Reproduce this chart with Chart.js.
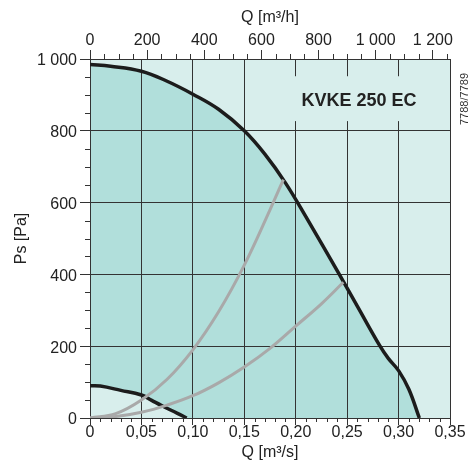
<!DOCTYPE html>
<html>
<head>
<meta charset="utf-8">
<script src="https://cdn.jsdelivr.net/npm/chart.js@4.4.0/dist/chart.umd.min.js"></script>
<style>
  html, body { margin: 0; padding: 0; background: #fff; }
</style>
</head>
<body>
<canvas id="fanChart" width="472" height="466"></canvas>
<script>
// Fan curve KVKE 250 EC
// max speed curve
const flowMax  = [0, 0.02, 0.05, 0.075, 0.10, 0.125, 0.15, 0.17, 0.19, 0.21, 0.2424, 0.26, 0.282, 0.29, 0.30, 0.31, 0.3202];
const pressMax = [985, 980, 966, 938, 902, 860, 800, 735, 655, 560, 400, 311, 200, 166, 132, 80, 0];
// min speed curve
const flowMin  = [0, 0.01, 0.03, 0.05, 0.06, 0.07, 0.085, 0.094];
const pressMin = [90, 89, 77, 64, 49, 34, 13, 0];
// system curves (grey)
const flowSysA  = [0, 0.025, 0.05, 0.075, 0.10, 0.125, 0.15, 0.175, 0.188];
const pressSysA = [0, 12, 50, 108, 190, 296, 426, 580, 664];
const flowSysB  = [0, 0.025, 0.05, 0.075, 0.10, 0.125, 0.15, 0.175, 0.20, 0.225, 0.2463];
const pressSysB = [0, 4, 16, 36, 62, 98, 142, 194, 256, 318, 378];

const darkFill = 'rgb(177, 223, 219)';
const lightFill = 'rgb(216, 238, 236)';
const gridColor = '#333';
const curveBlack = '#1c1c1c';
const systemGrey = '#a9a9a9';
const fontFamily = '"Liberation Sans", Arial, sans-serif';

function pts(xs, ys) {
    return xs.map((x, i) => ({ x: x, y: ys[i] }));
}

function spaced(v) {
    return String(Math.round(v)).replace(/\B(?=(\d{3})+(?!\d))/g, ' ');
}

const isMajorQ = v => Math.round(v * 100) % 5 === 0;
const isMajorH = v => Math.round(v) % 200 === 0;
const isMajorP = v => Math.round(v) % 200 === 0;

// background of plot area
const plotBackground = {
    id: 'plotBackground',
    beforeDraw(chart) {
        const { ctx, chartArea: a } = chart;
        ctx.save();
        ctx.fillStyle = lightFill;
        ctx.fillRect(a.left, a.top, a.right - a.left, a.bottom - a.top);
        ctx.restore();
    }
};

// the fills cover the grid, so draw the grid again on top of them
const gridOverFill = {
    id: 'gridOverFill',
    beforeDatasetsDraw(chart) {
        chart.scales.x.drawGrid(chart.chartArea);
        chart.scales.y.drawGrid(chart.chartArea);
    }
};

// model name box, hides the grid behind it
const modelLabel = {
    id: 'modelLabel',
    beforeDatasetsDraw(chart) {
        const { ctx, scales: { x, y } } = chart;
        const left = x.getPixelForValue(0.185);
        const right = x.getPixelForValue(0.345);
        const top = y.getPixelForValue(952);
        const bottom = y.getPixelForValue(827);
        ctx.save();
        ctx.fillStyle = lightFill;
        ctx.fillRect(left, top, right - left, bottom - top);
        ctx.font = 'bold 18px ' + fontFamily;
        ctx.fillStyle = '#222';
        ctx.textAlign = 'center';
        ctx.textBaseline = 'middle';
        ctx.fillText('KVKE 250 EC', x.getPixelForValue(0.2615), y.getPixelForValue(882));
        ctx.restore();
    }
};

// short minor tick marks + drawing number on the right
const minorTicks = {
    id: 'minorTicks',
    afterDraw(chart) {
        const { ctx, chartArea: a, scales } = chart;
        ctx.save();
        ctx.strokeStyle = gridColor;
        ctx.lineWidth = 1;
        ctx.beginPath();
        scales.x.ticks.forEach(t => {
            if (isMajorQ(t.value)) return;
            const p = Math.round(scales.x.getPixelForValue(t.value)) + 0.5;
            ctx.moveTo(p, a.bottom);
            ctx.lineTo(p, a.bottom + 4);
        });
        scales.x2.ticks.forEach(t => {
            if (isMajorH(t.value)) return;
            const p = Math.round(scales.x2.getPixelForValue(t.value)) + 0.5;
            ctx.moveTo(p, a.top);
            ctx.lineTo(p, a.top - 5);
        });
        scales.y.ticks.forEach(t => {
            if (isMajorP(t.value)) return;
            const p = Math.round(scales.y.getPixelForValue(t.value)) + 0.5;
            ctx.moveTo(a.left, p);
            ctx.lineTo(a.left - 5, p);
        });
        ctx.stroke();

        ctx.translate(465, 99);
        ctx.rotate(-Math.PI / 2);
        ctx.font = '11px ' + fontFamily;
        ctx.fillStyle = '#333';
        ctx.textAlign = 'center';
        ctx.textBaseline = 'middle';
        ctx.fillText('7788/7789', 0, 0);
        ctx.restore();
    }
};

const tickFont = { family: fontFamily, size: 16 };

new Chart(document.getElementById('fanChart'), {
    type: 'line',
    data: {
        datasets: [
            { label: 'max', data: pts(flowMax, pressMax), borderColor: curveBlack, borderWidth: 3.5,
              backgroundColor: darkFill, fill: 'origin', order: 4 },
            { label: 'min', data: pts(flowMin, pressMin), borderColor: curveBlack, borderWidth: 3.5,
              backgroundColor: lightFill, fill: 'origin', order: 3 },
            { label: 'system A', data: pts(flowSysA, pressSysA), borderColor: systemGrey, borderWidth: 3,
              fill: false, order: 2 },
            { label: 'system B', data: pts(flowSysB, pressSysB), borderColor: systemGrey, borderWidth: 3,
              fill: false, order: 1 }
        ]
    },
    options: {
        responsive: false,
        animation: false,
        layout: { padding: { right: 22 } },
        elements: {
            point: { radius: 0 },
            line: { tension: 0.4, borderCapStyle: 'butt' }
        },
        plugins: {
            legend: { display: false },
            tooltip: { enabled: false },
            filler: { drawTime: 'beforeDatasetsDraw' }
        },
        scales: {
            x: {
                type: 'linear',
                position: 'bottom',
                min: 0,
                max: 0.35,
                afterFit: s => { s.height = 48; },
                border: { color: gridColor },
                grid: {
                    color: c => isMajorQ(c.tick.value) ? gridColor : 'rgba(0,0,0,0)',
                    tickColor: c => isMajorQ(c.tick.value) ? gridColor : 'rgba(0,0,0,0)',
                    tickLength: 7
                },
                ticks: {
                    stepSize: 0.01,
                    autoSkip: false,
                    maxRotation: 0,
                    padding: -2,
                    color: '#222',
                    font: tickFont,
                    callback: v => isMajorQ(v) ? (v === 0 ? '0' : v.toFixed(2).replace('.', ',')) : ''
                },
                title: { display: true, text: 'Q [m³/s]', color: '#222', font: tickFont, padding: { top: 4, bottom: 4 } }
            },
            x2: {
                type: 'linear',
                position: 'top',
                min: 0,
                max: 1260,
                afterFit: s => { s.height = 59; },
                border: { color: gridColor },
                grid: {
                    drawOnChartArea: false,
                    tickColor: c => isMajorH(c.tick.value) ? gridColor : 'rgba(0,0,0,0)',
                    tickLength: 9
                },
                ticks: {
                    stepSize: 50,
                    includeBounds: false,
                    autoSkip: false,
                    maxRotation: 0,
                    padding: 0,
                    color: '#222',
                    font: tickFont,
                    callback: v => isMajorH(v) ? spaced(v) : ''
                },
                title: { display: true, text: 'Q [m³/h]', color: '#222', font: tickFont, padding: { top: 8, bottom: 8 } }
            },
            y: {
                type: 'linear',
                position: 'left',
                min: 0,
                max: 1000,
                afterFit: s => { s.width = 90; },
                border: { color: gridColor },
                grid: {
                    color: c => isMajorP(c.tick.value) ? gridColor : 'rgba(0,0,0,0)',
                    tickColor: c => isMajorP(c.tick.value) ? gridColor : 'rgba(0,0,0,0)',
                    tickLength: 10
                },
                ticks: {
                    stepSize: 50,
                    autoSkip: false,
                    padding: 3,
                    labelOffset: 2,
                    color: '#222',
                    font: tickFont,
                    callback: v => isMajorP(v) ? spaced(v) : ''
                },
                title: { display: true, text: 'Ps [Pa]', color: '#222', font: tickFont, padding: { top: 12, bottom: 12 } }
            }
        }
    },
    plugins: [plotBackground, gridOverFill, modelLabel, minorTicks]
});
</script>
</body>
</html>
